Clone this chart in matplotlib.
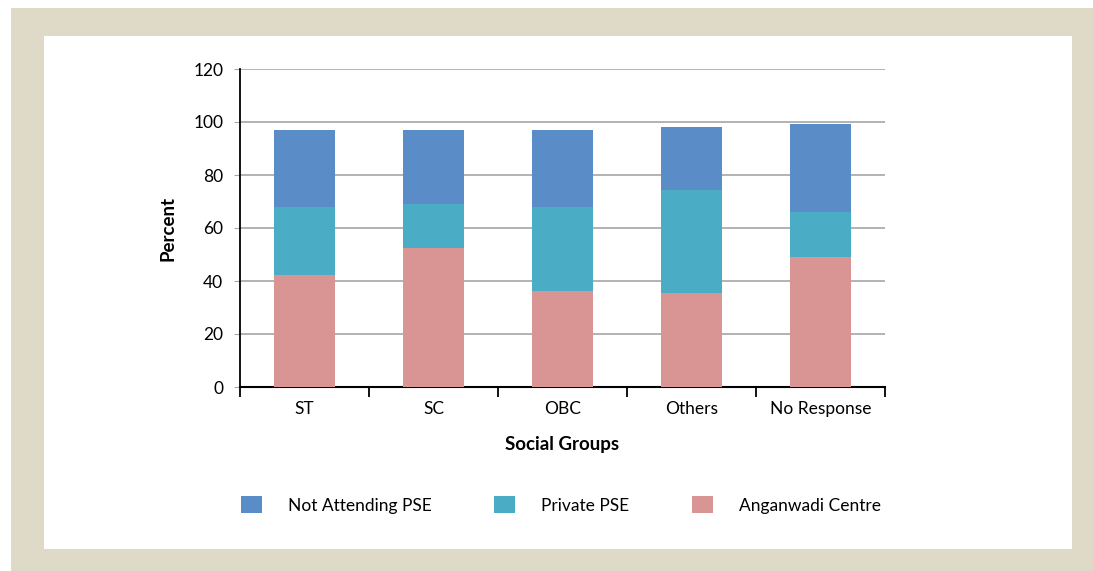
import matplotlib
matplotlib.use("Agg")
import matplotlib.pyplot as plt
from matplotlib.patches import Rectangle
import numpy as np

categories = ["ST", "SC", "OBC", "Others", "No Response"]
anganwadi = [42.3, 52.6, 36.3, 35.3, 49.1]
private_pse = [25.7, 16.5, 31.7, 39.1, 17.0]
not_attending = [29.0, 27.9, 29.0, 23.7, 33.1]
yticks = [0, 20, 40, 60, 80, 100, 120]

c_blue = "#5a8cc8"
c_teal = "#4bacc6"
c_pink = "#d99594"
beige = "#dfd9c8"

plt.rcParams['font.family'] = ['Lato', 'DejaVu Sans']

fig = plt.figure(figsize=(10.93, 5.71), dpi=100)
fig.patch.set_facecolor("white")
W, H = 1093, 571
fig.patches.append(Rectangle((11 / W, 0), 1 - 11 / W, 1 - 8 / H, transform=fig.transFigure,
                             facecolor=beige, edgecolor="none", zorder=-2))
fig.patches.append(Rectangle((44 / W, 1 - 549 / H), (1072 - 44) / W, (549 - 36) / H,
                             transform=fig.transFigure, facecolor="white", edgecolor="none", zorder=-1))

ax = fig.add_axes([240 / W, 1 - 387 / H, (885 - 240) / W, (387 - 69) / H])
ax.set_facecolor("none")
x = np.arange(len(categories))
bw = 0.475
a = np.array(anganwadi)
p = np.array(private_pse)
n = np.array(not_attending)
ax.bar(x, a, bw, color=c_pink, label="Anganwadi Centre", zorder=3)
ax.bar(x, p, bw, bottom=a, color=c_teal, label="Private PSE", zorder=3)
ax.bar(x, n, bw, bottom=a + p, color=c_blue, label="Not Attending PSE", zorder=3)

ax.set_xlim(-0.5, len(categories) - 0.5)
ax.set_ylim(0, 120)
ax.set_yticks(yticks)
ax.set_yticklabels([str(v) for v in yticks], fontsize=12.5)
ax.yaxis.grid(True, color="#a6a6a6", linewidth=1.2, zorder=0)
ax.tick_params(axis="y", length=4, color="#a6a6a6", pad=8)

ax.set_xticks(np.arange(-0.5, len(categories)), minor=False)
ax.set_xticklabels([""] * (len(categories) + 1))
ax.set_xticks(x, minor=True)
ax.set_xticklabels(categories, minor=True, fontsize=12.5)
ax.tick_params(axis="x", which="major", length=7, width=1.3, color="black", direction="out")
ax.tick_params(axis="x", which="minor", length=0, pad=10)

for s in ["top", "right"]:
    ax.spines[s].set_visible(False)
ax.spines["left"].set_linewidth(1.3)
ax.spines["bottom"].set_linewidth(1.5)

ax.set_xlabel("Social Groups", fontsize=13.5, fontweight="bold", labelpad=14)
ax.set_ylabel("Percent", fontsize=13.5, fontweight="bold", labelpad=12)

handles, labels = ax.get_legend_handles_labels()
order = [2, 1, 0]
leg = fig.legend([handles[i] for i in order], [labels[i] for i in order],
                 loc="center", bbox_to_anchor=(561 / W, 1 - 505 / H), ncol=3, frameon=False,
                 fontsize=12.5, handlelength=1.2, handleheight=1.1, columnspacing=3.6, handletextpad=1.5)

fig.savefig("out.png", dpi=100)
